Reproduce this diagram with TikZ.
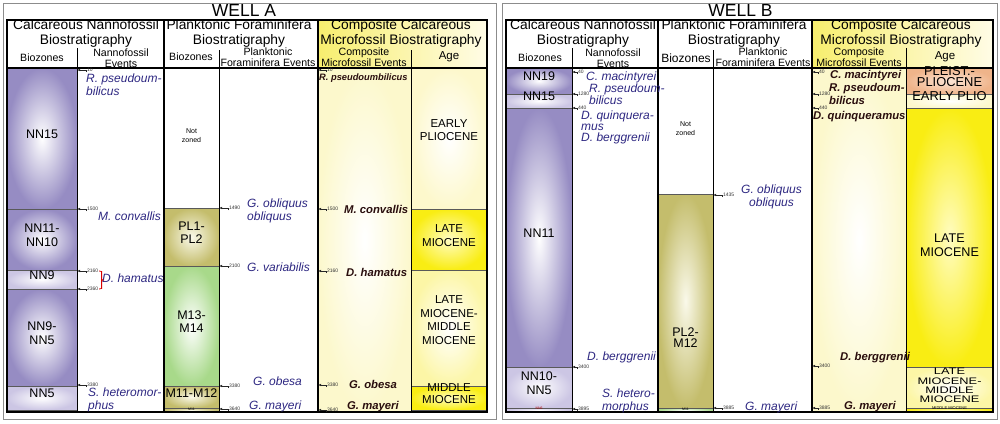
\documentclass[tikz,border=0pt]{standalone}
\usepackage{fontspec}
\setmainfont{Liberation Sans}
\usepackage{tikz}
\usetikzlibrary{arrows.meta,calc,fit}
\definecolor{evblue}{HTML}{2E2882}
\definecolor{evdark}{HTML}{2A0E0E}
\definecolor{nnpurple}{HTML}{968CC3}
\definecolor{nnlight}{HTML}{CCC6E4}
\definecolor{plkhaki}{HTML}{C4BD6C}
\definecolor{plin}{HTML}{FAF9EA}
\definecolor{mgreen}{HTML}{A8D98A}
\definecolor{agebright}{HTML}{F9ED13}
\definecolor{agebrightin}{HTML}{FFFCC2}
\definecolor{agepale}{HTML}{FCF6A6}
\definecolor{agelight}{HTML}{FDF8CC}
\definecolor{comppale}{HTML}{FCF8CC}
\definecolor{agepeach}{HTML}{EFB48A}
\definecolor{agepeachin}{HTML}{FCE6D6}
\definecolor{hdyel}{HTML}{F7EE6E}
\definecolor{hdyelr}{HTML}{FFFCE6}

\begin{document}
\begin{tikzpicture}[x=1pt,y=-1pt,
  box/.style={draw=black!65,line width=0.5pt,inner sep=0pt,outer sep=0pt,align=center,font=\fontsize{12.5}{13.5}\selectfont},
  zone/.style={box,shade},
  nnz/.style={zone,inner color=white,outer color=nnpurple},
  nnl/.style={zone,inner color=white,outer color=nnlight},
  plz/.style={zone,inner color=plin,outer color=plkhaki},
  mz/.style={zone,inner color=white,outer color=mgreen},
  agb/.style={zone,inner color=agebrightin,outer color=agebright,font=\fontsize{11.5}{13.5}\selectfont},
  agp/.style={zone,inner color=white,outer color=agepale,font=\fontsize{11.5}{13.5}\selectfont},
  cmp/.style={zone,draw=none,inner color=white,outer color=comppale},
  tinyz/.style={font=\fontsize{3.5}{4}\selectfont},
  agetxt/.style={align=center,inner sep=0pt,font=\fontsize{11.5}{13.5}\selectfont},
  hd/.style={align=center,inner sep=0pt,font=\fontsize{13.8}{15}\selectfont},
  subhd/.style={align=center,inner sep=0pt,font=\fontsize{10.6}{11}\selectfont},
  ev/.style={anchor=west,align=left,inner sep=0pt,text=evblue,font=\fontsize{12}{13}\selectfont\itshape},
  cev/.style={anchor=west,align=left,inner sep=0pt,text=evdark,font=\fontsize{11.3}{13}\selectfont\bfseries\itshape},
  num/.style={anchor=west,inner sep=0.8pt,text=black!80,font=\fontsize{5}{5}\selectfont},
  mkarrow/.style={-{Latex[length=3pt,width=2.4pt]},line width=0.5pt,black!85},
  rule/.style={line width=1.3pt},
  subrule/.style={line width=1pt}]
\useasboundingbox (0,0) rectangle (1000,423);
\fill[white] (0,0) rectangle (1000,423);
\draw[black!45,line width=1pt] (3,3) rectangle (496,419) (502,3) rectangle (997,419);
\coordinate (a1) at (77,68);
\coordinate (a3) at (219,68);
\coordinate (a4) at (318,68);
\coordinate (b1) at (572,68);
\coordinate (b3) at (713,68);
\coordinate (b4) at (812,68);

% WELL A
\node[font=\fontsize{17.5}{18}\selectfont] (wellA) at (244,10.5) {WELL A};
\shade[left color=hdyel,right color=hdyelr] (318,20) rectangle (487,68);
\node[hd] (calcA) at (86,33.5) {Calcareous Nannofossil\\Biostratigraphy};
\node[hd] (plankA) at (239,33.5) {Planktonic Foraminifera\\Biostratigraphy};
\node[hd] (compA) at (401,33.5) {Composite Calcareous\\Microfossil Biostratigraphy};
\node[subhd] (bzA) at (42,58) {Biozones};
\node[subhd] (nevA) at (121,58.5) {Nannofossil\\Events};
\node[subhd] (pbzA) at (191,57) {Biozones};
\node[subhd] (pevA) at (268,57) {Planktonic\\Foraminifera Events};
\node[subhd] (cevA) at (364,57.5) {Composite\\Microfossil Events};
\node[subhd,font=\fontsize{11.5}{12}\selectfont] (ageA) at (449,57) {Age};

\node[nnz,fit={(7,68) (77,209)}] (nn15A) {NN15};
\node[nnz,fit={(7,209) (77,270)}] (nn11A) {NN11-\\NN10};
\node[nnl,fit={(7,270) (77,289)}] (nn9A) {NN9};
\node[nnz,fit={(7,289) (77,386)}] (nn95A) {NN9-\\NN5};
\node[nnl,fit={(7,386) (77,410)}] (nn5A) {NN5};
\node[nnl,fit={(7,410) (77,412)}] (nnbA) {};

\node[box,fill=white,font=\fontsize{7}{9}\selectfont,fit={(164,68) (219,208)}] (nzA) {Not\\zoned};
\node[plz,fit={(164,208) (219,266)}] (pl12A) {PL1-\\PL2};
\node[mz,fit={(164,266) (219,386)}] (m1314A) {M13-\\M14};
\node[plz,fit={(164,386) (219,408)}] (m1112A) {M11-M12};
\node[plz,tinyz,fit={(164,408) (219,412)}] (m11A) {M11};

\node[cmp,fit={(318,68) (411,412)}] (cbgA) {};
\node[zone,inner color=white,outer color=agelight,fit={(411,68) (487,209)}] (eplA) {};
\node[agetxt] (eplAt) at (449,130) {EARLY\\PLIOCENE};
\node[agb,fit={(411,209) (487,270)}] (lmA) {LATE\\MIOCENE};
\node[agp,fit={(411,270) (487,386)}] (lmmA) {};
\node[agetxt] (lmmAt) at (449,320) {LATE\\MIOCENE-\\MIDDLE\\MIOCENE};
\node[agb,font=\fontsize{11.5}{12}\selectfont,fit={(411,386) (487,410)}] (mmA) {MIDDLE\\MIOCENE};
\node[agb,fit={(411,410) (487,412)}] (mmbA) {};

\draw[rule] (7,20) rectangle (487,412);
\draw[rule] (7,68) -- (487,68) (164,20) -- (164,412) (318,20) -- (318,412);
\draw[subrule] (77,48) -- (77,412) (219,50) -- (219,412) (411,50) -- (411,412);

\node[ev] (rpA) at (86,84.5) {R. pseudoum-\\bilicus};
\node[ev] (mcA) at (98,216) {M. convallis};
\node[ev] (dhA) at (102,278) {D. hamatus};
\node[ev] (shA) at (88,399.5) {S. heteromor-\\phus};
\node[ev] (goA) at (247,210.5) {G. obliquus\\obliquus};
\node[ev] (gvA) at (247,267) {G. variabilis};
\node[ev] (gobA) at (253,381) {G. obesa};
\node[ev] (gmA) at (249,406) {G. mayeri};
\node[cev,font=\fontsize{9.3}{10}\selectfont\bfseries\itshape] (crpA) at (319,78) {R. pseudoumbilicus};
\node[cev] (cmcA) at (344,209) {M. convallis};
\node[cev] (cdhA) at (346,272) {D. hamatus};
\node[cev] (cgoA) at (349,384) {G. obesa};
\node[cev] (cgmA) at (347,407) {G. mayeri};

\foreach \y/\n in {70/10,209/1500,271/2160,289/2360,385/3380}{
  \node[num] (tAn\n) at (86,\y) {\n};
  \draw[mkarrow] ([yshift=-2pt]tAn\n.west) -- (tAn\n.west) -- (tAn\n.west -| a1);
}
\foreach \y/\n in {208/1490,266/2100,386/3380,409/3640}{
  \node[num] (tAp\n) at (228,\y) {\n};
  \draw[mkarrow] ([yshift=-2pt]tAp\n.west) -- (tAp\n.west) -- (tAp\n.west -| a3);
}
\foreach \y/\n in {70/10,209/1500,271/2160,385/3380,410/3640}{
  \node[num] (tAc\n) at (326,\y) {\n};
  \draw[mkarrow] ([yshift=-2pt]tAc\n.west) -- (tAc\n.west) -- (tAc\n.west -| a4);
}
\draw[red!85!black,line width=0.8pt] (tAn2160.east) -- ++(2.5,0.5) -- ++(0,8) -- ++(1.5,0.5) -- ++(-1.5,0.5) -- ++(0,8) -- (tAn2360.east);

% WELL B
\node[font=\fontsize{17.5}{18}\selectfont] (wellB) at (740.5,10.5) {WELL B};
\shade[left color=hdyel,right color=hdyelr] (812,20) rectangle (993,68);
\node[hd] (calcB) at (583,33.5) {Calcareous Nannofossil\\Biostratigraphy};
\node[hd] (plankB) at (734,33.5) {Planktonic Foraminifera\\Biostratigraphy};
\node[hd] (compB) at (901,33.5) {Composite Calcareous\\Microfossil Biostratigraphy};
\node[subhd] (bzB) at (540,58) {Biozones};
\node[subhd] (nevB) at (613,58.5) {Nannofossil\\Events};
\node[subhd,font=\fontsize{12}{12}\selectfont] (pbzB) at (686,58) {Biozones};
\node[subhd] (pevB) at (763,57) {Planktonic\\Foraminifera Events};
\node[subhd] (cevB) at (859,57.5) {Composite\\Microfossil Events};
\node[subhd,font=\fontsize{11.5}{12}\selectfont] (ageB) at (945,56.5) {Age};

\node[nnz,fit={(506,68) (572,94)}] (nn19B) {NN19};
\node[nnl,fit={(506,94) (572,108)}] (nn15B) {NN15};
\node[nnz,fit={(506,108) (572,367)}] (nn11B) {NN11};
\node[nnl,fit={(506,367) (572,408)}] (nn105B) {NN10-\\NN5};
\node[nnl,tinyz,text=red!70!black,fit={(506,408) (572,412)}] (nn6B) {NN6};

\node[box,fill=white,font=\fontsize{7}{9}\selectfont,fit={(658,68) (713,194)}] (nzB) {Not\\zoned};
\node[plz,fit={(658,194) (713,408)}] (pl2B) {};
\node[font=\fontsize{12.5}{11.5}\selectfont,align=center,inner sep=0pt] (pl2Bt) at (685.5,337.5) {PL2-\\M12};
\node[mz,tinyz,fit={(658,408) (713,412)}] (m11B) {M11};

\node[cmp,fit={(812,68) (906,412)}] (cbgB) {};
\node[zone,inner color=agepeachin,outer color=agepeach,font=\fontsize{12.9}{11.5}\selectfont,fit={(906,68) (993,94)}] (plpB) {PLEIST.-\\PLIOCENE};
\node[zone,inner color=white,outer color=agelight,font=\fontsize{12.9}{13}\selectfont,fit={(906,94) (993,108)}] (epB) {EARLY PLIO};
\node[agb,fit={(906,108) (993,367)}] (lmB) {};
\node[agetxt,font=\fontsize{12.6}{14}\selectfont] (lmBt) at (949.5,245) {LATE\\MIOCENE};
\node[agp,fit={(906,367) (993,408)}] (lmmB) {};
\node[inner sep=0pt,font=\fontsize{12.8}{12.4}\selectfont] (lmmBt) at (949.5,387) {\scalebox{1}[0.74]{\begin{tabular}{@{}c@{}}LATE\\MIOCENE-\\MIDDLE\\MIOCENE\end{tabular}}};
\node[agb,font=\fontsize{4}{4}\selectfont,fit={(906,408) (993,412)}] (mmB) {MIDDLE MIOCENE};

\draw[rule] (506,20) rectangle (993,412);
\draw[rule] (506,68) -- (993,68) (658,20) -- (658,412) (812,20) -- (812,412);
\draw[subrule] (572,48) -- (572,412) (713,50) -- (713,412) (906,48) -- (906,412);

\node[ev] (cmB) at (586,77) {C. macintyrei};
\node[ev,font=\fontsize{12}{12}\selectfont\itshape] (rpB) at (589,94) {R. pseudoum-\\bilicus};
\node[ev,font=\fontsize{12}{10.7}\selectfont\itshape] (dqB) at (581,127.5) {D. quinquera-\\mus\\D. berggrenii};
\node[ev] (dbB) at (587,357) {D. berggrenii};
\node[ev] (shB) at (602,400.5) {S. hetero-\\morphus};
\node[ev,align=center] (goB) at (741,196.5) {G. obliquus\\obliquus};
\node[ev] (gmB) at (745,407) {G. mayeri};
\node[cev] (ccmB) at (830,76) {C. macintyrei};
\node[cev] (crpB) at (829,93.5) {R. pseudoum-\\bilicus};
\node[cev] (cdqB) at (813,117) {D. quinqueramus};
\node[cev] (cdbB) at (840,358) {D. berggrenii};
\node[cev] (cgmB) at (844,407) {G. mayeri};

\foreach \y/\n in {72/40,94/1280,108/440,367/3400,409/3895}{
  \node[num] (tBn\n) at (577,\y) {\n};
  \draw[mkarrow] ([yshift=-2pt]tBn\n.west) -- (tBn\n.west) -- (tBn\n.west -| b1);
}
\foreach \y/\n in {195/1435,408/3885}{
  \node[num] (tBp\n) at (722,\y) {\n};
  \draw[mkarrow] ([yshift=-2pt]tBp\n.west) -- (tBp\n.west) -- (tBp\n.west -| b3);
}
\foreach \y/\n in {72/40,94/1280,108/440,366/3400,408/3885}{
  \node[num] (tBc\n) at (818,\y) {\n};
  \draw[mkarrow] ([yshift=-2pt]tBc\n.west) -- (tBc\n.west) -- (tBc\n.west -| b4);
}
\end{tikzpicture}
\end{document}
